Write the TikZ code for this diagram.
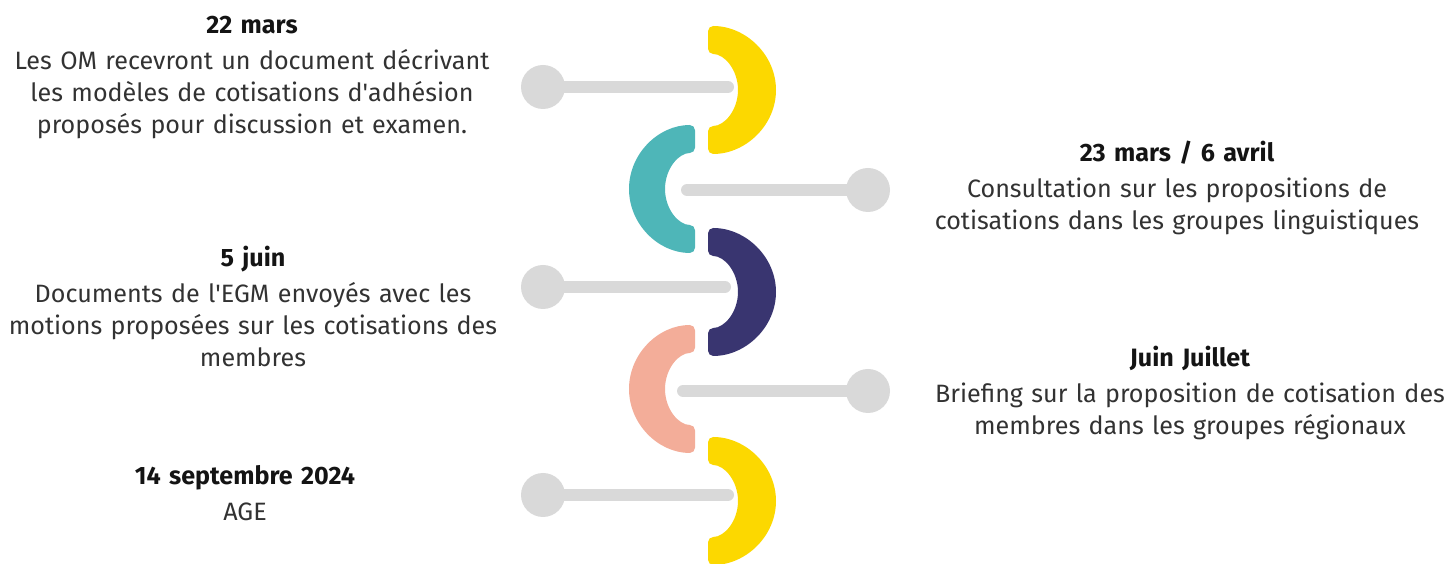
\documentclass[tikz,border=0pt]{standalone}
\usepackage{fontspec}
\setmainfont{Fira Sans}
\usepackage{xcolor}
\usetikzlibrary{positioning}
\definecolor{lightgrey}{RGB}{217,217,217}
\definecolor{sunyellow}{RGB}{252,216,0}
\definecolor{teal}{RGB}{78,182,184}
\definecolor{navy}{RGB}{57,53,112}
\definecolor{salmon}{RGB}{243,173,153}
\definecolor{bodygrey}{RGB}{50,50,50}
\definecolor{headblack}{RGB}{20,20,20}
\tikzstyle{ball} = [circle, fill=lightgrey, minimum size=0.88cm, inner sep=0pt]
\tikzstyle{stem} = [draw=lightgrey, line width=0.24cm, line cap=round]
\tikzstyle{event} = [text width=10.8cm, align=center, anchor=base, inner sep=0pt,
  text=bodygrey, font=\fontsize{14.3}{18.2}\selectfont]
\newcommand{\when}[1]{\textcolor{headblack}{\bfseries #1}\\[2pt]}

\begin{document}
\begin{tikzpicture}[x=0.02cm, y=0.02cm]
    \useasboundingbox (0,0) rectangle (1445,564);
    % half rings of the spine
    \fill[sunyellow, rounded corners=3pt] (708,538) arc[start angle=90, end angle=-90, x radius=68, y radius=64]
      -- (708,438) arc[start angle=-90, end angle=90, x radius=30, y radius=36] -- cycle;
    \fill[teal, rounded corners=3pt] (695,439) arc[start angle=90, end angle=270, x radius=66, y radius=64]
      -- (695,339) arc[start angle=270, end angle=90, x radius=30, y radius=36] -- cycle;
    \fill[navy, rounded corners=3pt] (708,336) arc[start angle=90, end angle=-90, x radius=68, y radius=64]
      -- (708,236) arc[start angle=-90, end angle=90, x radius=30, y radius=36] -- cycle;
    \fill[salmon, rounded corners=3pt] (695,239) arc[start angle=90, end angle=270, x radius=66, y radius=64]
      -- (695,139) arc[start angle=270, end angle=90, x radius=30, y radius=36] -- cycle;
    \fill[sunyellow, rounded corners=3pt] (708,127) arc[start angle=90, end angle=-90, x radius=68, y radius=64]
      -- (708,27) arc[start angle=-90, end angle=90, x radius=30, y radius=36] -- cycle;

    % stems and balls
    \node[ball] (b1) at (543,477) {};
    \node[ball] (b2) at (868,374) {};
    \node[ball] (b3) at (543,277) {};
    \node[ball] (b4) at (868,173) {};
    \node[ball] (b5) at (543,69) {};
    \coordinate (e1) at (728,477);
    \coordinate (e2) at (687,374);
    \coordinate (e3) at (725,277);
    \coordinate (e4) at (683,173);
    \coordinate (e5) at (728,69);
    \foreach \i in {1,...,5}
      \draw[stem] (b\i.center) -- (e\i);

    % texts
    \node[event] (t1) at (252,530) {\when{22 mars}
      Les OM recevront un document décrivant\\
      les modèles de cotisations d\textquotesingle adhésion\\
      proposés pour discussion et examen.};
    \node[event] (t2) at (1177,402) {\when{23 mars / 6 avril}
      Consultation sur les propositions de\\
      cotisations dans les groupes linguistiques};
    \node[event] (t3) at (253,297) {\when{5 juin}
      Documents de l\textquotesingle EGM envoyés avec les\\
      motions proposées sur les cotisations des\\
      membres};
    \node[event] (t4) at (1190,197) {\when{Juin Juillet}
      Briefing sur la proposition de cotisation des\\
      membres dans les groupes régionaux};
    \node[event] (t5) at (245,79) {\when{14 septembre 2024}
      AGE};
\end{tikzpicture}
\end{document}
